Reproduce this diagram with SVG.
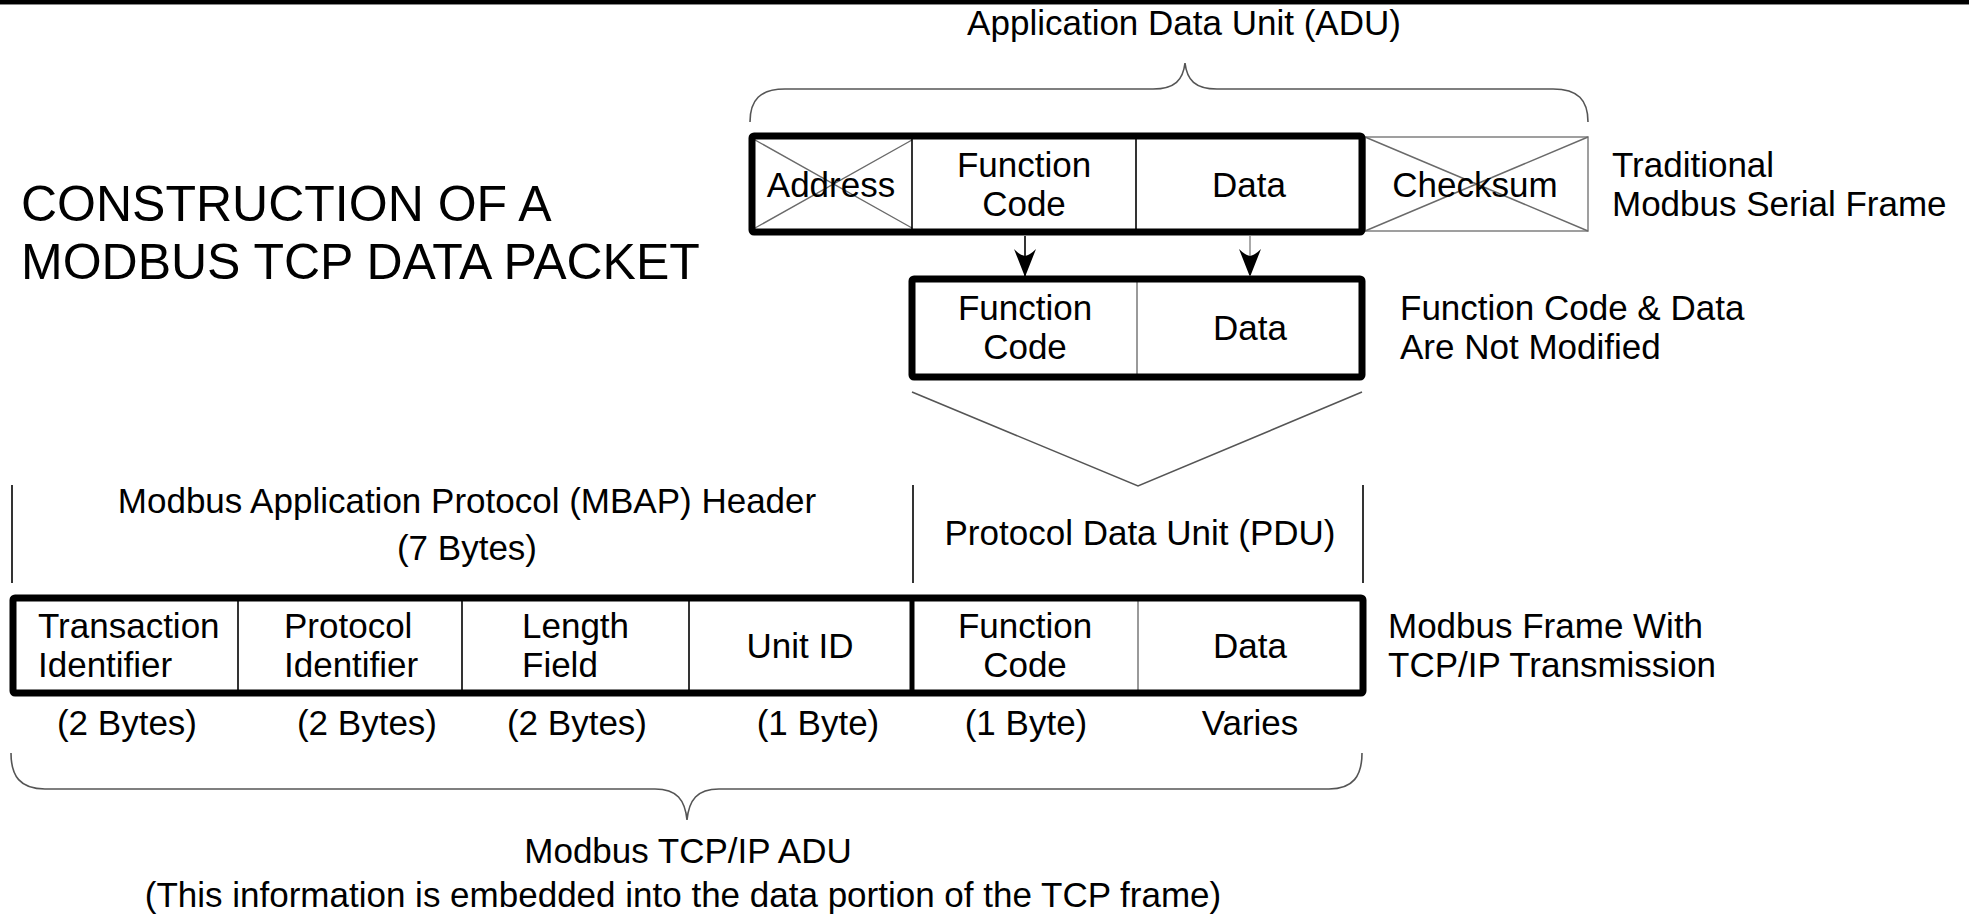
<svg xmlns="http://www.w3.org/2000/svg" width="1969" height="917" viewBox="0 0 1969 917">
<defs>
<style>
text{font-family:"Liberation Sans",Arial,sans-serif;font-size:35px;fill:#000}
.m{text-anchor:middle}
.title{font-size:50px}
.thick{fill:none;stroke:#000;stroke-width:7;stroke-linejoin:round}
.div{stroke:#000;stroke-width:1.6}
.gdiv{stroke:#9a9a9a;stroke-width:2}
.cross{stroke:#6a6a6a;stroke-width:1.4;fill:none}
.brace{fill:none;stroke:#555;stroke-width:1.6}
.vline{stroke:#000;stroke-width:1.6}
</style>
<marker id="ah" viewBox="0 0 28 22" refX="27" refY="11" markerWidth="28" markerHeight="22" markerUnits="userSpaceOnUse" orient="auto">
<path d="M28,11 L0,0 Q6,6 7,11 Q6,16 0,22 Z" fill="#000"/>
</marker>
</defs>
<rect width="1969" height="917" fill="#fff"/>
<rect x="0" y="0" width="1969" height="4" fill="#000"/>
<line x1="0" y1="4.5" x2="1969" y2="4.5" stroke="#888" stroke-width="1"/>

<g id="title">
<text class="title" x="21" y="221">CONSTRUCTION OF A</text>
<text class="title" x="21" y="279">MODBUS TCP DATA PACKET</text>
</g>

<g id="adu-label">
<text class="m" x="1184" y="35">Application Data Unit (ADU)</text>
<path class="brace" d="M750,122 C750,100 760,89 785,89 L1153,89 C1175,89 1183,80 1185,63 C1187,80 1195,89 1217,89 L1553,89 C1578,89 1588,100 1588,122"/>
</g>

<g id="serial-frame">
<rect x="1365" y="137" width="223" height="94" fill="none" stroke="#888" stroke-width="1.6"/>
<path class="cross" d="M1365,137 L1588,231 M1365,231 L1588,137"/>
<path class="cross" d="M755,140 L912,228 M755,228 L912,140"/>
<line class="div" x1="912" y1="138" x2="912" y2="230"/>
<line class="div" x1="1136" y1="138" x2="1136" y2="230"/>
<rect class="thick" x="752" y="136" width="610" height="96" rx="2"/>
<text class="m" x="831" y="197">Address</text>
<text class="m" x="1024" y="177">Function</text>
<text class="m" x="1024" y="216">Code</text>
<text class="m" x="1249" y="197">Data</text>
<text class="m" x="1475" y="197">Checksum</text>
<text x="1612" y="177">Traditional</text>
<text x="1612" y="216">Modbus Serial Frame</text>
</g>

<g id="pdu-box">
<line class="gdiv" x1="1137" y1="280" x2="1137" y2="375"/>
<rect class="thick" x="912" y="279" width="450" height="98" rx="2"/>
<text class="m" x="1025" y="320">Function</text>
<text class="m" x="1025" y="359">Code</text>
<text class="m" x="1250" y="340">Data</text>
<text x="1400" y="320">Function Code &amp; Data</text>
<text x="1400" y="359">Are Not Modified</text>
</g>

<g id="connectors">
<line x1="1025" y1="236" x2="1025" y2="276" stroke="#000" stroke-width="1.6" marker-end="url(#ah)"/>
<line x1="1250" y1="236" x2="1250" y2="276" stroke="#aaa" stroke-width="2" marker-end="url(#ah)"/>
<polyline points="912,392 1138,486 1362,392" fill="none" stroke="#555" stroke-width="1.6"/>
</g>

<g id="mbap-label">
<line class="vline" x1="12" y1="485" x2="12" y2="583"/>
<line class="vline" x1="913" y1="485" x2="913" y2="583"/>
<text class="m" x="467" y="513">Modbus Application Protocol (MBAP) Header</text>
<text class="m" x="467" y="560">(7 Bytes)</text>
</g>

<g id="pdu-label">
<line class="vline" x1="1363" y1="485" x2="1363" y2="583"/>
<text class="m" x="1140" y="545">Protocol Data Unit (PDU)</text>
</g>

<g id="tcp-frame">
<line class="div" x1="238" y1="600" x2="238" y2="691"/>
<line class="div" x1="462" y1="600" x2="462" y2="691"/>
<line class="div" x1="689" y1="600" x2="689" y2="691"/>
<line x1="912" y1="600" x2="912" y2="691" stroke="#000" stroke-width="5"/>
<line class="gdiv" x1="1138" y1="600" x2="1138" y2="691"/>
<rect class="thick" x="13" y="598" width="1350" height="95" rx="2"/>
<text x="38" y="638">Transaction</text>
<text x="38" y="677">Identifier</text>
<text x="284" y="638">Protocol</text>
<text x="284" y="677">Identifier</text>
<text x="522" y="638">Length</text>
<text x="522" y="677">Field</text>
<text class="m" x="800" y="658">Unit ID</text>
<text class="m" x="1025" y="638">Function</text>
<text class="m" x="1025" y="677">Code</text>
<text class="m" x="1250" y="658">Data</text>
<text x="1388" y="638">Modbus Frame With</text>
<text x="1388" y="677">TCP/IP Transmission</text>
<text class="m" x="127" y="735">(2 Bytes)</text>
<text class="m" x="367" y="735">(2 Bytes)</text>
<text class="m" x="577" y="735">(2 Bytes)</text>
<text class="m" x="818" y="735">(1 Byte)</text>
<text class="m" x="1026" y="735">(1 Byte)</text>
<text class="m" x="1250" y="735">Varies</text>
</g>

<g id="tcp-adu-label">
<path class="brace" d="M11,753 C11,776 20,789 45,789 L655,789 C677,789 685,800 687,820 C689,800 697,789 719,789 L1329,789 C1353,789 1362,776 1362,753"/>
<text class="m" x="688" y="863">Modbus TCP/IP ADU</text>
<text class="m" x="683" y="907">(This information is embedded into the data portion of the TCP frame)</text>
</g>
</svg>
